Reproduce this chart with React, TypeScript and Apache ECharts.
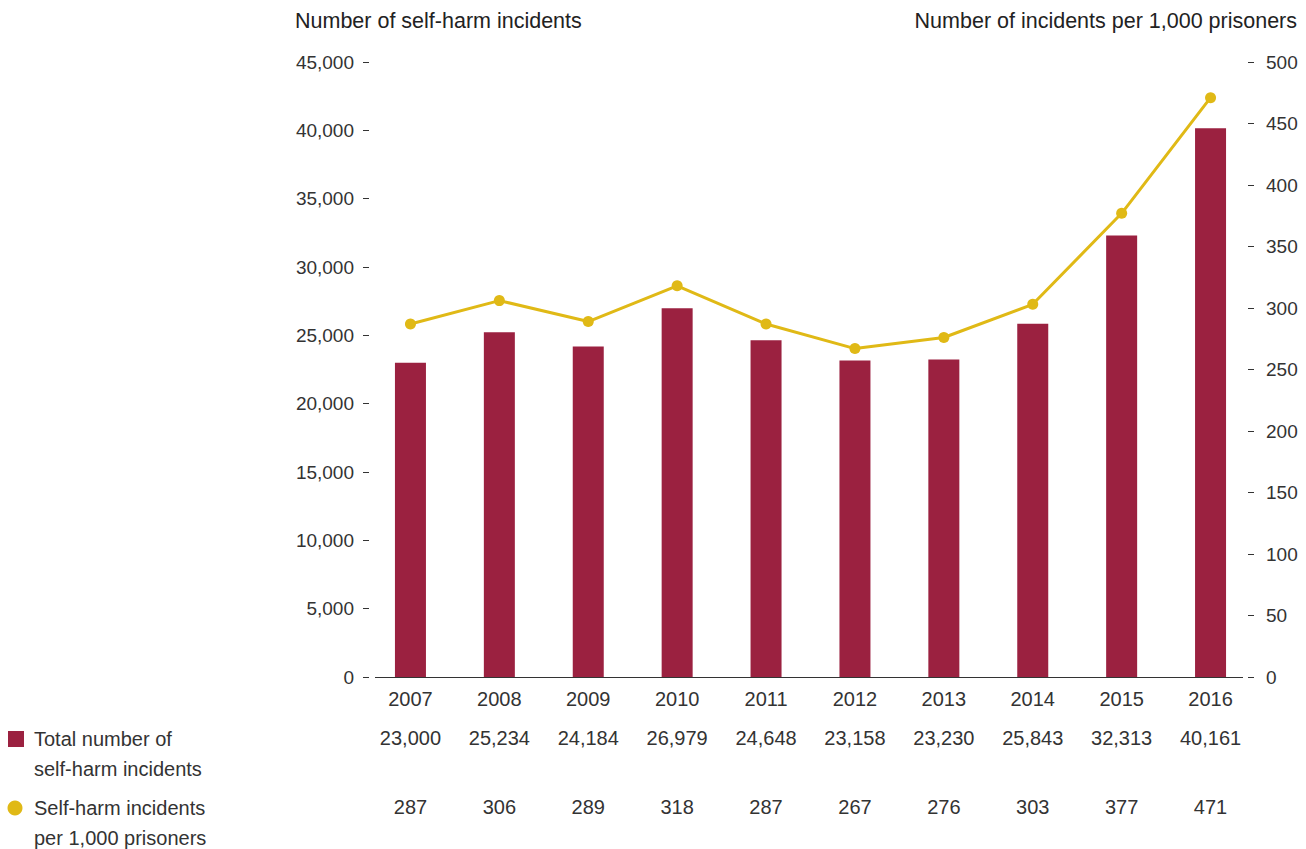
import React, { useEffect, useRef } from "react";
import * as echarts from "echarts";

const years = ["2007", "2008", "2009", "2010", "2011", "2012", "2013", "2014", "2015", "2016"];
const totalIncidents = [23000, 25234, 24184, 26979, 24648, 23158, 23230, 25843, 32313, 40161];
const ratePer1000 = [287, 306, 289, 318, 287, 267, 276, 303, 377, 471];

const leftTitle = "Number of self-harm incidents";
const rightTitle = "Number of incidents per 1,000 prisoners";
const legendBar = ["Total number of", "self-harm incidents"];
const legendLine = ["Self-harm incidents", "per 1,000 prisoners"];

const BAR = "#9B2140";
const GOLD = "#E0B916";
const TXT = "#333333";
const FONT = "'Liberation Sans', Arial, Helvetica, sans-serif";

const fmt = (v: number) => v.toLocaleString("en-US");

export default function App() {
  const ref = useRef<HTMLDivElement>(null);
  useEffect(() => {
    if (!ref.current) return;
    const chart = echarts.init(ref.current, null, { renderer: "svg" });
    const hiddenAxis = {
      axisLine: { show: false },
      axisTick: { show: false },
      splitLine: { show: false },
    };
    chart.setOption({
      animation: false,
      textStyle: { fontFamily: FONT, color: TXT },
      title: [
        {
          text: leftTitle,
          left: 295,
          top: 10,
          padding: 0,
          textStyle: { fontFamily: FONT, fontSize: 21.5, fontWeight: "normal", color: "#222" },
        },
        {
          text: rightTitle,
          right: 9,
          top: 10,
          padding: 0,
          textStyle: { fontFamily: FONT, fontSize: 21.5, fontWeight: "normal", color: "#222" },
        },
      ],
      grid: { left: 366, right: 51, top: 62, bottom: 172, containLabel: false },
      xAxis: [
        {
          type: "category",
          data: years,
          position: "bottom",
          ...hiddenAxis,
          axisLabel: { fontSize: 20, color: TXT, margin: 12, fontFamily: FONT },
        },
        {
          type: "category",
          data: years,
          position: "bottom",
          offset: 40,
          ...hiddenAxis,
          axisLabel: {
            fontSize: 20,
            color: TXT,
            margin: 11,
            fontFamily: FONT,
            formatter: (_v: string, i: number) => fmt(totalIncidents[i]),
          },
        },
        {
          type: "category",
          data: years,
          position: "bottom",
          offset: 109,
          ...hiddenAxis,
          axisLabel: {
            fontSize: 20,
            color: TXT,
            margin: 11,
            fontFamily: FONT,
            formatter: (_v: string, i: number) => String(ratePer1000[i]),
          },
        },
      ],
      yAxis: [
        {
          type: "value",
          min: 0,
          max: 45000,
          interval: 5000,
          position: "left",
          offset: -3,
          axisLine: { show: false },
          axisTick: { show: true, length: 6, lineStyle: { color: TXT, width: 1 } },
          splitLine: { show: false },
          axisLabel: { fontSize: 19, color: TXT, margin: 15, fontFamily: FONT, formatter: (v: number) => fmt(v) },
        },
        {
          type: "value",
          min: 0,
          max: 500,
          interval: 50,
          position: "right",
          offset: -1,
          axisLine: { show: false },
          axisTick: { show: true, inside: true, length: 6, lineStyle: { color: TXT, width: 1 } },
          splitLine: { show: false },
          axisLabel: { fontSize: 19, color: TXT, margin: 12, fontFamily: FONT },
        },
      ],
      series: [
        {
          type: "bar",
          name: "Total number of self-harm incidents",
          data: totalIncidents,
          xAxisIndex: 0,
          yAxisIndex: 0,
          barWidth: 31,
          itemStyle: { color: BAR },
        },
        {
          type: "line",
          name: "Self-harm incidents per 1,000 prisoners",
          data: ratePer1000,
          xAxisIndex: 0,
          yAxisIndex: 1,
          symbol: "circle",
          symbolSize: 11,
          lineStyle: { color: GOLD, width: 3 },
          itemStyle: { color: GOLD },
          z: 5,
        },
      ],
      graphic: [
        {
          type: "line",
          shape: { x1: 375, y1: 677.5, x2: 1243, y2: 677.5 },
          style: { stroke: TXT, lineWidth: 1 },
          z: 1,
        },
        { type: "rect", shape: { x: 8, y: 731, width: 16, height: 16 }, style: { fill: BAR } },
        {
          type: "text",
          x: 34,
          y: 739,
          style: { text: legendBar[0], fontSize: 20, fill: TXT, font: `20px ${FONT}`, verticalAlign: "middle" },
        },
        {
          type: "text",
          x: 34,
          y: 769,
          style: { text: legendBar[1], fontSize: 20, fill: TXT, font: `20px ${FONT}`, verticalAlign: "middle" },
        },
        { type: "circle", shape: { cx: 15, cy: 808, r: 7.5 }, style: { fill: GOLD } },
        {
          type: "text",
          x: 34,
          y: 808,
          style: { text: legendLine[0], fontSize: 20, fill: TXT, font: `20px ${FONT}`, verticalAlign: "middle" },
        },
        {
          type: "text",
          x: 34,
          y: 838,
          style: { text: legendLine[1], fontSize: 20, fill: TXT, font: `20px ${FONT}`, verticalAlign: "middle" },
        },
      ],
    });
    return () => chart.dispose();
  }, []);
  return (
    <div
      ref={ref}
      style={{ position: "fixed", left: 0, top: 0, width: 1306, height: 849, background: "#fff" }}
    />
  );
}
